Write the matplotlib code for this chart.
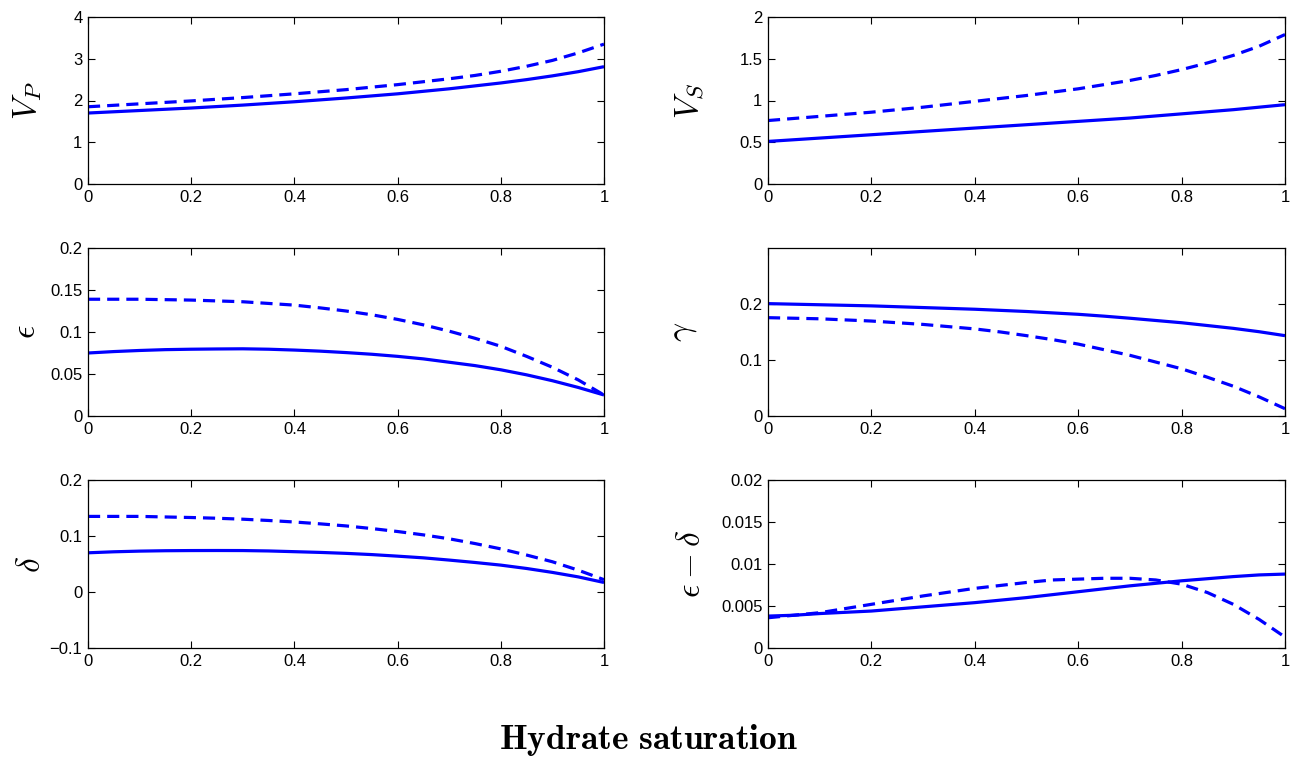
import matplotlib
matplotlib.use('Agg')
import matplotlib.pyplot as plt

plt.rcParams['font.family'] = ['Liberation Sans', 'DejaVu Sans']
plt.rcParams['mathtext.fontset'] = 'cm'

# hydrate saturation samples
sat = [0.0, 0.05, 0.1, 0.15, 0.2, 0.25, 0.3, 0.35, 0.4, 0.45, 0.5,
       0.55, 0.6, 0.65, 0.7, 0.75, 0.8, 0.85, 0.9, 0.95, 1.0]

# values (solid / dashed)
vp_solid = [1.70, 1.73, 1.76, 1.79, 1.82, 1.855, 1.89, 1.93, 1.97, 2.015, 2.06,
            2.11, 2.16, 2.22, 2.28, 2.35, 2.42, 2.50, 2.59, 2.69, 2.81]
vp_dash = [1.85, 1.885, 1.92, 1.955, 1.99, 2.03, 2.07, 2.115, 2.16, 2.21, 2.26,
           2.32, 2.38, 2.45, 2.52, 2.60, 2.70, 2.82, 2.96, 3.14, 3.35]

vs_solid = [0.51, 0.53, 0.55, 0.57, 0.59, 0.61, 0.63, 0.65, 0.67, 0.69, 0.71,
            0.73, 0.75, 0.77, 0.79, 0.815, 0.84, 0.865, 0.89, 0.92, 0.95]
vs_dash = [0.76, 0.785, 0.81, 0.835, 0.86, 0.89, 0.92, 0.955, 0.99, 1.025, 1.06,
           1.10, 1.14, 1.19, 1.24, 1.30, 1.37, 1.45, 1.54, 1.65, 1.79]

eps_solid = [0.075, 0.0767, 0.078, 0.079, 0.0795, 0.0798, 0.080, 0.0795, 0.0785, 0.0772, 0.0755,
             0.0735, 0.071, 0.068, 0.064, 0.060, 0.055, 0.049, 0.042, 0.034, 0.025]
eps_dash = [0.139, 0.139, 0.139, 0.1385, 0.138, 0.137, 0.136, 0.134, 0.132, 0.1287, 0.125,
            0.1205, 0.115, 0.1085, 0.101, 0.0925, 0.083, 0.071, 0.058, 0.043, 0.025]

gam_solid = [0.200, 0.199, 0.198, 0.197, 0.196, 0.1945, 0.193, 0.1915, 0.190, 0.188, 0.186,
             0.1835, 0.181, 0.1777, 0.174, 0.170, 0.166, 0.161, 0.156, 0.150, 0.143]
gam_dash = [0.175, 0.174, 0.173, 0.171, 0.169, 0.166, 0.163, 0.159, 0.155, 0.1495, 0.143,
            0.136, 0.128, 0.118, 0.108, 0.096, 0.084, 0.069, 0.053, 0.034, 0.013]

del_solid = [0.070, 0.0718, 0.073, 0.0737, 0.074, 0.0741, 0.074, 0.0733, 0.072, 0.0707, 0.069,
             0.0668, 0.064, 0.061, 0.057, 0.0527, 0.048, 0.042, 0.035, 0.027, 0.017]
del_dash = [0.135, 0.135, 0.135, 0.134, 0.133, 0.1317, 0.130, 0.1277, 0.125, 0.1217, 0.118,
            0.1133, 0.108, 0.102, 0.095, 0.0865, 0.077, 0.066, 0.054, 0.039, 0.022]

ed_solid = [0.0038, 0.0039, 0.0041, 0.00425, 0.0044, 0.00465, 0.0049, 0.00515, 0.0054, 0.0057, 0.0060,
            0.00635, 0.0067, 0.00705, 0.0074, 0.0077, 0.0080, 0.00825, 0.0085, 0.0087, 0.0088]
ed_dash = [0.0036, 0.0039, 0.0042, 0.0047, 0.0052, 0.0057, 0.0062, 0.00665, 0.0071, 0.00745, 0.0078,
           0.0081, 0.0082, 0.0083, 0.0083, 0.0081, 0.0076, 0.0066, 0.0052, 0.0034, 0.0013]

fig = plt.figure(figsize=(12.97, 7.58), dpi=100)

W, H = 1297.0, 758.0
cols = [(88, 604), (768, 1285)]
rows = [(17, 184), (248, 416), (480, 648)]

panels = [
    # (row, col, solid, dashed, ylim, yticks, ylabel, label x offset)
    (0, 0, vp_solid, vp_dash, (0, 4), [0, 1, 2, 3, 4], r'$V_P$', -0.085),
    (0, 1, vs_solid, vs_dash, (0, 2), [0, 0.5, 1, 1.5, 2], r'$V_S$', -0.12),
    (1, 0, eps_solid, eps_dash, (0, 0.2), [0, 0.05, 0.1, 0.15, 0.2], r'$\epsilon$', -0.09),
    (1, 1, gam_solid, gam_dash, (0, 0.299), [0, 0.1, 0.2], r'$\gamma$', -0.133),
    (2, 0, del_solid, del_dash, (-0.1, 0.2), [-0.1, 0, 0.1, 0.2], r'$\delta$', -0.08),
    (2, 1, ed_solid, ed_dash, (0, 0.02), [0, 0.005, 0.01, 0.015, 0.02], r'$\epsilon-\delta$', -0.118),
]

blue = '#0000ff'
for r, c, ys, yd, ylim, yt, lab, lx in panels:
    x0, x1 = cols[c]
    t0, t1 = rows[r]
    ax = fig.add_axes([x0 / W, 1 - t1 / H, (x1 - x0) / W, (t1 - t0) / H])
    ax.plot(sat, ys, color=blue, lw=2.3, solid_capstyle='butt')
    ax.plot(sat, yd, color=blue, lw=2.3, linestyle=(0, (3.8, 2.2)))
    ax.set_xlim(0, 1)
    ax.set_ylim(*ylim)
    ax.set_xticks([0, 0.2, 0.4, 0.6, 0.8, 1])
    ax.set_xticklabels(['0', '0.2', '0.4', '0.6', '0.8', '1'])
    ax.set_yticks(yt)
    ax.set_yticklabels(['%g' % v if v >= 0 else '\u2212%g' % -v for v in yt])
    ax.tick_params(direction='in', top=True, right=True, length=5, width=0.8,
                   labelsize=12, pad=4)
    for s in ax.spines.values():
        s.set_linewidth(0.9)
    ax.set_ylabel(lab, fontsize=24, rotation=90)
    ax.yaxis.set_label_coords(lx, 0.5)

fig.text(0.5, 1 - 740 / H, r'$\mathbf{Hydrate\ saturation}$', ha='center', va='center',
         fontsize=25.5)

fig.savefig('out.png', dpi=100)
